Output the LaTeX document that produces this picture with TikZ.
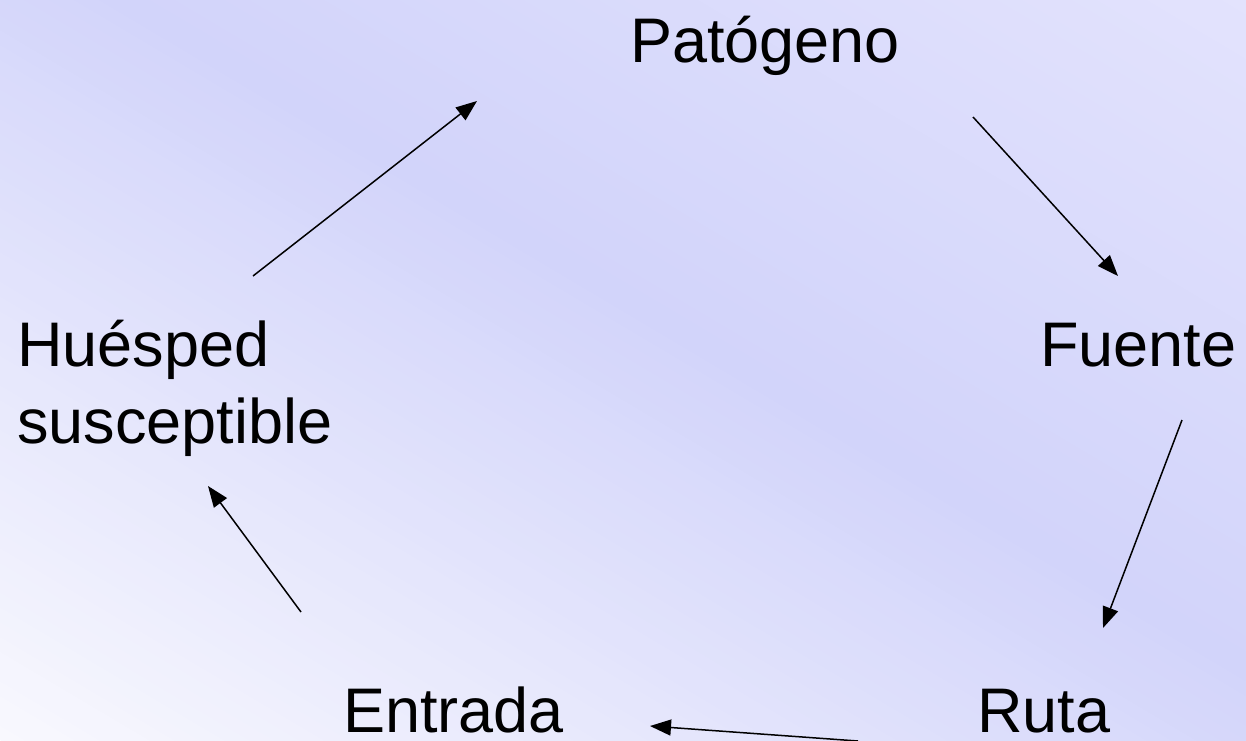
\documentclass[tikz,border=0pt]{standalone}
\usepackage{fontspec}
\setmainfont{Liberation Sans}
\usetikzlibrary{arrows.meta}

% background gradient colours: light corner, deep middle, top-right corner
\definecolor{bgA}{HTML}{F8F8FE}
\definecolor{bgB}{HTML}{D2D4FA}
\definecolor{bgC}{HTML}{E3E3FD}

\tikzset{
  lbl/.style={anchor=base west, inner sep=0pt, outer sep=0pt,
    font=\fontsize{63}{77}\selectfont, text=black},
  link/.style={draw=black, line width=1.5pt,
    -{Triangle[length=21pt,width=16pt]}},
}

\begin{document}
\begin{tikzpicture}[x=1pt,y=-1pt]
  \useasboundingbox (0,0) rectangle (1246,740);

  % diagonal gradient, built from thin bands running parallel to the
  % top-left / bottom-right diagonal
  \begin{scope}
    \clip (0,0) rectangle (1246,740);
    \foreach \i in {0,...,99} {
      \pgfmathsetmacro\ta{\i/100}
      \pgfmathsetmacro\tb{(\i+1.6)/100}
      \pgfmathsetmacro\tm{(\i+0.5)/100}
      \ifdim\tm pt<0.55pt
        \pgfmathtruncatemacro\pc{100*\tm/0.55}
        \colorlet{band}{bgB!\pc!bgA}
      \else
        \pgfmathtruncatemacro\pc{100*(\tm-0.55)/0.45}
        \colorlet{band}{bgC!\pc!bgB}
      \fi
      \fill[band] ({1246*(\ta-1)},{-740*\ta}) -- ({1246*(\ta+1)},{740*(2-\ta)})
        -- ({1246*(\tb+1)},{740*(2-\tb)}) -- ({1246*(\tb-1)},{-740*\tb}) -- cycle;
    }
  \end{scope}

  % the five stages of the chain
  \node[lbl] (pat) at (630,62) {Patógeno};
  \node[lbl] (fue) at (1040,366) {Fuente};
  \node[lbl] (rut) at (977,732) {Ruta};
  \node[lbl] (ent) at (343,732) {Entrada};
  \node[lbl, align=left] (hue) at (17,443) {Huésped\\susceptible};

  % arrow end points around the labels
  \coordinate (patOut) at (973,117);
  \coordinate (fueIn)  at (1118,276);
  \coordinate (fueOut) at (1182,420);
  \coordinate (rutIn)  at (1103,628);
  \coordinate (rutOut) at (858,741);
  \coordinate (entIn)  at (650,726);
  \coordinate (entOut) at (301,612);
  \coordinate (hueIn)  at (208,486);
  \coordinate (hueOut) at (253,276);
  \coordinate (patIn)  at (477,101);

  \draw[link] (patOut) -- (fueIn);
  \draw[link] (fueOut) -- (rutIn);
  \draw[link] (rutOut) -- (entIn);
  \draw[link] (entOut) -- (hueIn);
  \draw[link] (hueOut) -- (patIn);
\end{tikzpicture}
\end{document}
